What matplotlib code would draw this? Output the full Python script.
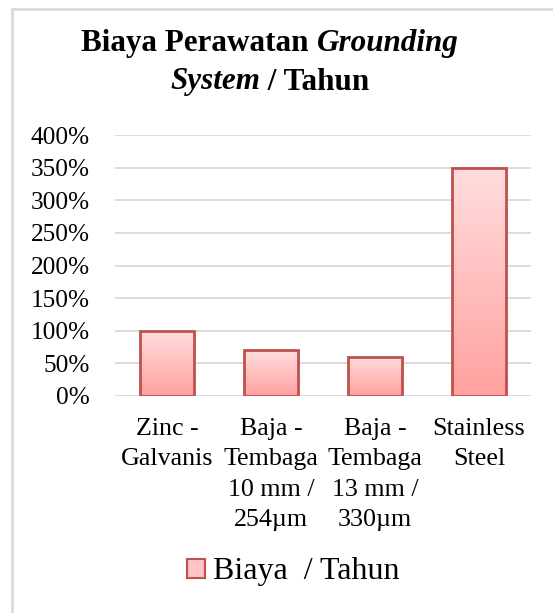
import numpy as np
import matplotlib
matplotlib.use('Agg')
import matplotlib.pyplot as plt
from matplotlib.patches import Rectangle
from matplotlib.colors import LinearSegmentedColormap
from matplotlib.lines import Line2D

# data
categories = ['Zinc -\nGalvanis', 'Baja -\nTembaga\n10 mm /\n254\u00b5m',
              'Baja -\nTembaga\n13 mm /\n330\u00b5m', 'Stainless\nSteel']
values = [100, 70, 60, 350]
y_ticks = [0, 50, 100, 150, 200, 250, 300, 350, 400]
legend_label = 'Biaya  / Tahun'

W, H = 553, 613
plt.rcParams['font.family'] = ['Liberation Serif', 'DejaVu Serif']

fig = plt.figure(figsize=(W / 100, H / 100), dpi=100)

# outer chart border (light gray)
fig.add_artist(Line2D([12 / W, 1], [1 - 9 / H, 1 - 9 / H], color='#D9D9D9', lw=2))
fig.add_artist(Line2D([12 / W, 12 / W], [0, 1 - 9 / H], color='#D9D9D9', lw=2))

left, right, top, bottom = 115, 531, 135, 396
ax = fig.add_axes([left / W, 1 - bottom / H, (right - left) / W, (bottom - top) / H])

x = np.arange(len(categories))
for s in ax.spines.values():
    s.set_visible(False)
ax.set_yticks(y_ticks)
ax.set_yticklabels([f'{v}%' for v in y_ticks], fontsize=18.2)
ax.tick_params(axis='y', length=0, pad=18)
ax.set_xticks([])
ax.yaxis.grid(True, color='#D9D9D9', lw=1.3)
ax.set_axisbelow(True)

cmap = LinearSegmentedColormap.from_list('pinkgrad', ['#FFA19F', '#FFDEDE'])
grad = np.linspace(0, 1, 256).reshape(-1, 1)
bw = 0.51
for xi, v in zip(x, values):
    # soft shadow
    ax.add_patch(Rectangle((xi - bw / 2 + 0.02, 0), bw, v - 2, facecolor='#000000',
                           alpha=0.08, edgecolor='none', zorder=2))
    rect = Rectangle((xi - bw / 2, 0), bw, v, facecolor='none', edgecolor='#C0504D',
                     lw=2, zorder=4)
    ax.add_patch(rect)
    im = ax.imshow(grad, cmap=cmap, origin='lower', aspect='auto',
                   extent=(xi - bw / 2, xi + bw / 2, 0, v), zorder=3)
    im.set_clip_path(rect)
ax.set_xlim(-0.5, len(categories) - 0.5)
ax.set_ylim(0, 400)

# category labels
for xi, lab in zip(x, categories):
    ax.annotate(lab, xy=(xi, 0), xycoords='data', xytext=(0, -16), textcoords='offset points',
                ha='center', va='top', fontsize=18.7, linespacing=1.48)

# title with mixed styles
fig.canvas.draw()
renderer = fig.canvas.get_renderer()
title_lines = [
    [('Biaya Perawatan ', 'normal'), ('Grounding', 'italic')],
    [('System', 'italic'), (' / Tahun', 'normal')],
]
line_y = [43, 82]
for parts, yy in zip(title_lines, line_y):
    texts = []
    for s, style in parts:
        t = fig.text(0, 1 - yy / H, s, fontsize=22.4, fontweight='bold', fontstyle=style,
                     va='center', ha='left')
        texts.append(t)
    widths = [t.get_window_extent(renderer).width for t in texts]
    xs = 270 - sum(widths) / 2
    for t, w in zip(texts, widths):
        t.set_x(xs / W)
        xs += w

# legend
handle = Rectangle((0, 0), 1, 1, facecolor='#FFC4C3', edgecolor='#C0504D', lw=1.5)
fig.legend([handle], [legend_label], loc='center', bbox_to_anchor=(293 / W, 1 - 572 / H),
           frameon=False, fontsize=23, handlelength=0.55, handleheight=0.55,
           handletextpad=0.25)

fig.savefig('out.png', dpi=100)
